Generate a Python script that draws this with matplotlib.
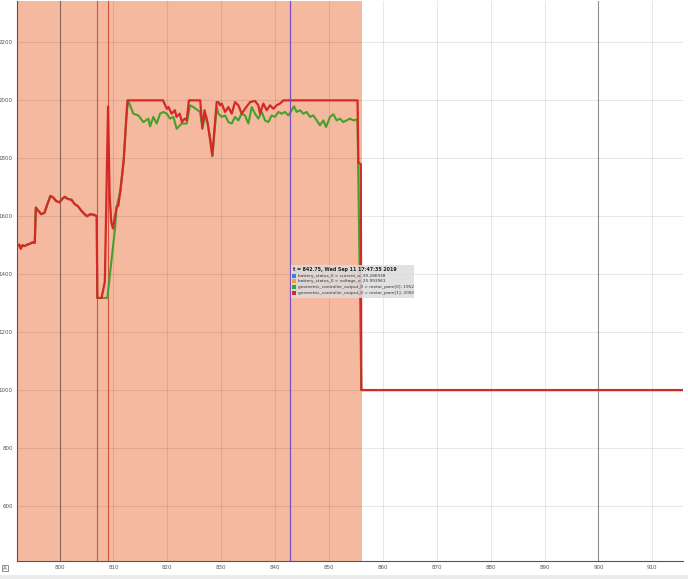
"""
PX4 log viewer style plot: motor PWM outputs of the geometric controller
around the end of a flight, with a highlighted region and hover tooltip.
"""

import matplotlib.pyplot as plt
from matplotlib.patches import Rectangle

# --- Data ---
# motor_pwm[1] (red)
pwm1_t = [792.1, 792.5, 792.8, 793.1, 793.5, 794.0, 794.5, 795.0, 795.4,
          795.6, 796.0, 796.6, 797.2, 797.8, 798.3, 798.8, 799.4, 800.0,
          800.5, 801.0, 801.5, 802.2, 802.8, 803.4, 804.0, 804.6, 805.1,
          805.7, 806.4, 806.9, 807.0, 807.8, 808.4, 809.0, 809.3, 809.6,
          809.9, 810.6, 810.9, 811.3, 811.9, 812.4, 812.6, 819.2, 819.9,
          820.2, 820.8, 821.4, 821.7, 822.3, 822.7, 823.2, 823.6, 824.0,
          826.1, 826.5, 826.9, 827.5, 828.35, 829.16, 829.47, 829.78, 830.09,
          830.71, 831.33, 831.95, 832.56, 833.18, 833.8, 834.42, 835.35,
          836.27, 836.89, 837.2, 837.82, 838.44, 839.06, 839.67, 840.29,
          840.91, 841.53, 855.3, 855.45, 855.9, 856.0, 915.7]
pwm1_v = [1495, 1502, 1488, 1500, 1497, 1502, 1505, 1510, 1508,
          1630, 1620, 1607, 1612, 1645, 1670, 1665, 1652, 1648,
          1660, 1667, 1660, 1657, 1642, 1635, 1620, 1608, 1600,
          1607, 1605, 1600, 1318, 1318, 1374, 1979, 1667, 1580,
          1558, 1632, 1636, 1690, 1793, 1943, 2000, 2000, 1971,
          1977, 1954, 1966, 1943, 1954, 1925, 1937, 1931, 2000,
          2000, 1902, 1966, 1920, 1810, 1994, 1994, 1983, 1989,
          1960, 1977, 1954, 1994, 1983, 1954, 1971, 1994,
          1998, 1983, 1954, 1989, 1966, 1983, 1971, 1983,
          1989, 2000, 2000, 1785, 1780, 1000, 1000]

# motor_pwm[0] (green)
pwm0_t = [792.1, 792.5, 792.8, 793.1, 793.5, 794.0, 794.5, 795.0, 795.4,
          795.6, 796.0, 796.6, 797.2, 797.8, 798.3, 798.8, 799.4, 800.0,
          800.5, 801.0, 801.5, 802.2, 802.8, 803.4, 804.0, 804.6, 805.1,
          805.7, 806.4, 806.9, 807.0, 808.87, 810.3, 810.6, 811.3, 811.9,
          812.4, 812.7, 813.08, 813.69, 814.62, 815.55, 816.48, 816.79,
          817.4, 818.03, 818.65, 819.26, 819.89, 820.5, 821.11, 821.74,
          822.67, 823.6, 824.21, 824.82, 826.07, 826.49, 827.18, 827.92,
          828.35, 829.16, 829.47, 830.09, 830.71, 831.33, 831.95, 832.56,
          833.18, 833.8, 834.42, 835.04, 835.66, 836.27, 836.89, 837.51,
          838.13, 838.75, 839.36, 839.98, 840.6, 841.22, 841.84, 842.46,
          843.08, 843.51, 844.0, 844.62, 845.24, 845.86, 846.48, 847.09,
          847.71, 848.33, 848.95, 849.45, 850.19, 850.81, 851.43, 852.05,
          852.67, 853.28, 853.9, 854.52, 855.14, 855.3, 856.0, 915.7]
pwm0_v = [1495, 1502, 1488, 1500, 1497, 1502, 1505, 1510, 1508,
          1630, 1620, 1607, 1612, 1645, 1670, 1665, 1652, 1648,
          1660, 1667, 1660, 1657, 1642, 1635, 1620, 1608, 1600,
          1607, 1605, 1600, 1318, 1318, 1560, 1632, 1690, 1793,
          1943, 2000, 1983, 1954, 1948, 1925, 1937, 1910,
          1943, 1920, 1954, 1960, 1954, 1937, 1943, 1902,
          1920, 1920, 1983, 1977, 1960, 1908, 1948, 1874,
          1807, 1977, 1954, 1943, 1948, 1925, 1920, 1943,
          1931, 1954, 1948, 1920, 1977, 1954, 1937, 1960,
          1931, 1925, 1948, 1943, 1960, 1954, 1960, 1948,
          1966, 1980, 1960, 1966, 1954, 1960, 1943, 1948,
          1931, 1914, 1931, 1908, 1943, 1952, 1931, 1937,
          1925, 1931, 1937, 1931, 1934, 1925, 1000, 1000]

x_ticks = [800, 810, 820, 830, 840, 850, 860, 870, 880, 890, 900, 910]
y_ticks = [600, 800, 1000, 1200, 1400, 1600, 1800, 2000, 2200]

highlight_span = (792.1, 856.1)
marker_lines = [806.96, 809.0]
cursor_t = 842.75

tooltip_title = "t = 842.75, Wed Sep 11 17:47:35 2019"
tooltip_labels = [
    "battery_status_0 > current_a: 39.286938",
    "battery_status_0 > voltage_v: 25.993961",
    "geometric_controller_output_0 > motor_pwm[0]: 1952",
    "geometric_controller_output_0 > motor_pwm[1]: 2000",
]
tooltip_colors = ["#3b7ddd", "#e8a631", "#3aa13a", "#d62a2a"]

# --- Figure ---
fig = plt.figure(figsize=(6.88, 5.79), dpi=100)
ax = fig.add_axes([17 / 688, 18.3 / 579, 666 / 688, 559.7 / 579])

ax.set_xlim(792.1, 915.7)
ax.set_ylim(411, 2343)

# highlighted region
ax.axvspan(*highlight_span, color="#f5b9a0", zorder=0, lw=0)

# grid, drawn with transparency so it darkens over the highlight
for t in range(800, 916, 10):
    a = 0.45 if t % 100 == 0 else 0.09
    ax.axvline(t, color="black", alpha=a, lw=0.8, zorder=1)
for v in y_ticks:
    ax.axhline(v, color="black", alpha=0.09, lw=0.8, zorder=1)

for t in marker_lines:
    ax.axvline(t, color="#d9503a", lw=0.8, zorder=2)

ax.plot(pwm0_t, pwm0_v, color="#47a02c", lw=1.5, zorder=3)
ax.plot(pwm1_t, pwm1_v, color="#d42a27", lw=1.6, zorder=4)

ax.axvline(cursor_t, color="#7a4fc6", lw=0.9, zorder=5)

ax.set_xticks(x_ticks)
ax.set_yticks(y_ticks)
ax.tick_params(labelsize=4, colors="#555555", length=0, pad=3)
for s in ["top", "right"]:
    ax.spines[s].set_visible(False)
for s in ["left", "bottom"]:
    ax.spines[s].set_color("#555555")
    ax.spines[s].set_linewidth(0.8)

# --- Tooltip ---
fig.patches.append(Rectangle((291 / 688, 1 - 298 / 579), 123 / 688, 33 / 579,
                             transform=fig.transFigure, facecolor="#dcdcdc",
                             alpha=0.85, edgecolor="none", zorder=10))
fig.text(293 / 688, 1 - 269.5 / 579, tooltip_title, fontsize=3.4,
         fontweight="bold", color="#222222", va="center", zorder=11)
for i, (label, c) in enumerate(zip(tooltip_labels, tooltip_colors)):
    y = 1 - (275.5 + 5.7 * i) / 579
    fig.patches.append(Rectangle((292 / 688, y - 2 / 579), 4 / 688, 4 / 579,
                                 transform=fig.transFigure, facecolor=c,
                                 edgecolor="none", zorder=11))
    fig.text(297.5 / 688, y, label, fontsize=3.05, color="#333333",
             va="center", zorder=11)

# bottom bar and icon like the viewer's footer
fig.patches.append(Rectangle((0, 0), 1, 4 / 579, transform=fig.transFigure,
                             facecolor="#ebebeb", edgecolor="none"))
fig.text(5 / 688, 1 - 568 / 579, "A", fontsize=4, color="#444444",
         ha="center", va="center",
         bbox=dict(boxstyle="square,pad=0.15", fc="white", ec="#666666", lw=0.5))

fig.savefig("out.png", dpi=100)
